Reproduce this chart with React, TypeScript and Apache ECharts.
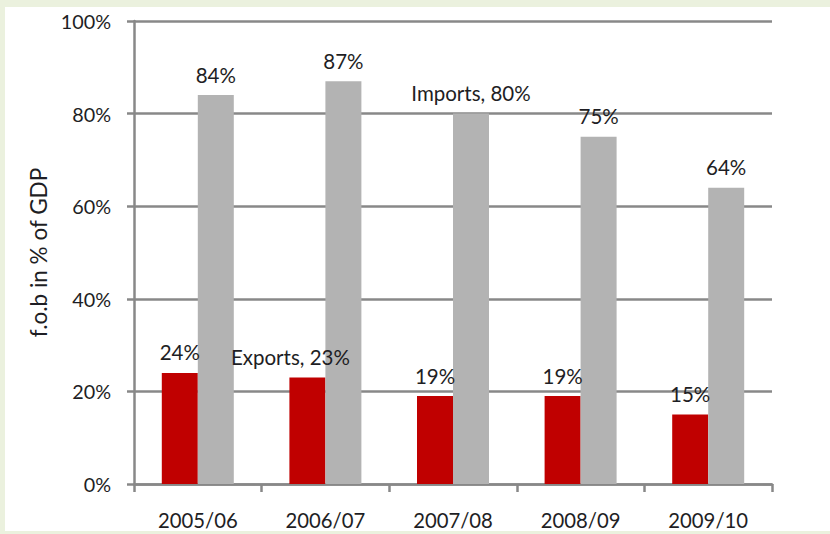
import React, { useEffect, useRef } from "react";
import * as echarts from "echarts";

const categories = ["2005/06", "2006/07", "2007/08", "2008/09", "2009/10"];
const exportsValues = [24, 23, 19, 19, 15];
const importsValues = [84, 87, 80, 75, 64];
const yTicks = [0, 20, 40, 60, 80, 100];
const exportsNamedLabelIndex = 1;
const importsNamedLabelIndex = 2;

const FONT = "Lato, 'Open Sans', sans-serif";
const TEXT = "#1e1e24";

export default function App() {
  const ref = useRef<HTMLDivElement>(null);
  useEffect(() => {
    document.body.style.margin = "0";
    const chart = echarts.init(ref.current!, null, { renderer: "svg" });
    chart.setOption({
      animation: false,
      backgroundColor: "#ebf1de",
      textStyle: { fontFamily: FONT },
      graphic: [
        {
          type: "rect",
          z: -10,
          silent: true,
          shape: { x: 5, y: 7, width: 825, height: 524 },
          style: { fill: "#ffffff" },
        },
      ],
      grid: { left: 134, right: 58, top: 21, bottom: 50, containLabel: false },
      xAxis: {
        type: "category",
        data: categories,
        axisLine: { lineStyle: { color: "#888888", width: 2.5 } },
        axisTick: { show: true, length: 8, lineStyle: { color: "#888888", width: 2.5 } },
        axisLabel: { color: TEXT, fontSize: 20.3, margin: 26, fontFamily: FONT },
      },
      yAxis: {
        type: "value",
        min: yTicks[0],
        max: yTicks[yTicks.length - 1],
        interval: 20,
        name: "f.o.b in % of GDP",
        nameLocation: "middle",
        nameGap: 84,
        nameTextStyle: { color: TEXT, fontSize: 22.5, fontFamily: FONT },
        axisLine: { show: true, lineStyle: { color: "#888888", width: 2.5 } },
        axisTick: { show: true, length: 7, lineStyle: { color: "#888888", width: 2.5 } },
        axisLabel: {
          color: TEXT,
          fontSize: 19.8,
          margin: 23,
          fontFamily: FONT,
          formatter: (v: number) => v + "%",
        },
        splitLine: { show: true, lineStyle: { color: "#888888", width: 2.5 } },
      },
      series: [
        {
          name: "Exports",
          type: "bar",
          data: exportsValues.map((v, i) =>
            i === exportsNamedLabelIndex
              ? { value: v, label: { offset: [-17, 0] } }
              : v
          ),
          barWidth: 36,
          barGap: "0%",
          itemStyle: { color: "#c00000" },
          label: {
            show: true,
            position: "top",
            distance: 10,
            color: TEXT,
            fontSize: 20.5,
            fontFamily: FONT,
            formatter: (p: any) =>
              p.dataIndex === exportsNamedLabelIndex
                ? `Exports, ${p.value}%`
                : `${p.value}%`,
          },
        },
        {
          name: "Imports",
          type: "bar",
          data: importsValues,
          barWidth: 36,
          barGap: "0%",
          itemStyle: { color: "#b3b3b3" },
          label: {
            show: true,
            position: "top",
            distance: 10,
            color: TEXT,
            fontSize: 20.5,
            fontFamily: FONT,
            formatter: (p: any) =>
              p.dataIndex === importsNamedLabelIndex
                ? `Imports, ${p.value}%`
                : `${p.value}%`,
          },
        },
      ],
    });
    return () => chart.dispose();
  }, []);
  return <div ref={ref} style={{ width: 830, height: 534 }} />;
}
